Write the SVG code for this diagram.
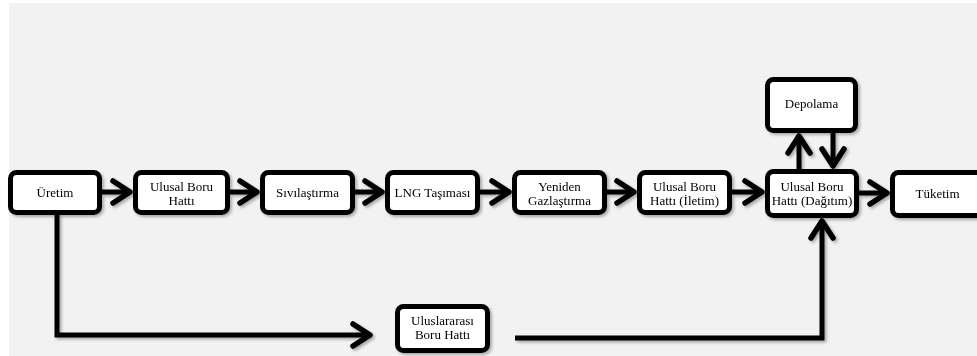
<svg xmlns="http://www.w3.org/2000/svg" width="977" height="356" viewBox="0 0 977 356">
<style>
.box{fill:#fff;stroke:#000;stroke-width:5}
.lbl{font-family:"Liberation Serif","Times New Roman",serif;font-size:13px;fill:#000;text-anchor:middle}
.con{fill:none;stroke:#000;stroke-width:5;stroke-linejoin:miter}
.sh{filter:url(#ds)}
</style>
<defs>
<filter id="ds" x="-20%" y="-20%" width="140%" height="140%">
<feDropShadow dx="2" dy="2" stdDeviation="1.5" flood-color="#000" flood-opacity="0.3"/>
</filter>
<marker id="ah" markerUnits="userSpaceOnUse" orient="auto" refX="0" refY="0" markerWidth="40" markerHeight="40" overflow="visible">
<path d="M-18,-11 L-1,0 L-18,11" fill="none" stroke="#000" stroke-width="5.5" stroke-linecap="round" stroke-linejoin="round"/>
</marker>
</defs>
<rect x="0" y="0" width="977" height="356" fill="#fff"/>
<rect x="9" y="3" width="968" height="353" fill="#f2f2f2"/>
<g id="connectors" class="sh">
<path class="con" d="M102,192 H131" marker-end="url(#ah)"/>
<path class="con" d="M230,192 H258" marker-end="url(#ah)"/>
<path class="con" d="M355,192 H383" marker-end="url(#ah)"/>
<path class="con" d="M480,192 H510" marker-end="url(#ah)"/>
<path class="con" d="M607,192 H635" marker-end="url(#ah)"/>
<path class="con" d="M732,192 H763" marker-end="url(#ah)"/>
<path class="con" d="M859,193 H888" marker-end="url(#ah)"/>
<path class="con" d="M799,169 V135" marker-end="url(#ah)"/>
<path class="con" d="M833,133 V167" marker-end="url(#ah)"/>
<path class="con" d="M57,214 V335 H371" marker-end="url(#ah)"/>
<path class="con" d="M515,338 H822 V220" marker-end="url(#ah)"/>
</g>
<g id="uretim" class="sh"><rect class="box" x="10.5" y="172.5" width="89" height="40" rx="6"/><text class="lbl" x="55" y="197">Üretim</text></g>
<g id="ulusal" class="sh"><rect class="box" x="135.5" y="172.5" width="92" height="40" rx="6"/><text class="lbl" x="181.5" y="191">Ulusal Boru</text><text class="lbl" x="181.5" y="205">Hattı</text></g>
<g id="sivilastirma" class="sh"><rect class="box" x="262.5" y="172.5" width="90" height="40" rx="6"/><text class="lbl" x="307.5" y="197">Sıvılaştırma</text></g>
<g id="lng" class="sh"><rect class="box" x="387.5" y="172.5" width="90" height="40" rx="6"/><text class="lbl" x="432.5" y="197">LNG Taşıması</text></g>
<g id="yeniden" class="sh"><rect class="box" x="514.5" y="172.5" width="90" height="40" rx="6"/><text class="lbl" x="559.5" y="191">Yeniden</text><text class="lbl" x="559.5" y="205">Gazlaştırma</text></g>
<g id="iletim" class="sh"><rect class="box" x="639.5" y="172.5" width="90" height="40" rx="6"/><text class="lbl" x="684.5" y="191">Ulusal Boru</text><text class="lbl" x="684.5" y="205">Hattı (İletim)</text></g>
<g id="dagitim" class="sh"><rect class="box" x="767.5" y="171.5" width="89" height="44" rx="6"/><text class="lbl" x="812" y="191">Ulusal Boru</text><text class="lbl" x="812" y="205">Hattı (Dağıtım)</text></g>
<g id="tuketim" class="sh"><rect class="box" x="892.5" y="172.5" width="92" height="43" rx="6"/><text class="lbl" x="937.5" y="198">Tüketim</text></g>
<g id="depolama" class="sh"><rect class="box" x="767.5" y="79.5" width="88" height="51" rx="6"/><text class="lbl" x="811.5" y="108">Depolama</text></g>
<g id="uluslararasi" class="sh"><rect class="box" x="397.5" y="306.5" width="90" height="44" rx="6"/><text class="lbl" x="442.5" y="325">Uluslararası</text><text class="lbl" x="442.5" y="339">Boru Hattı</text></g>
</svg>
